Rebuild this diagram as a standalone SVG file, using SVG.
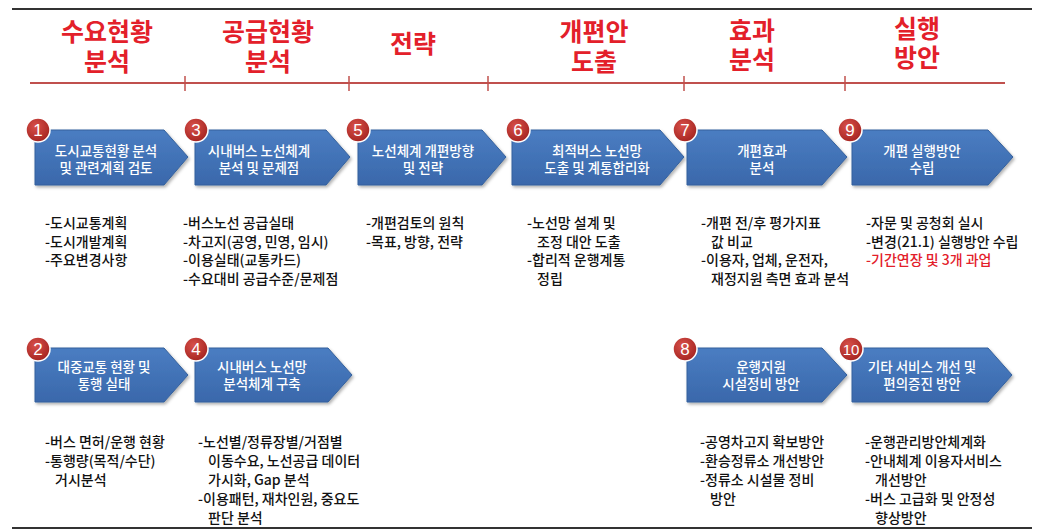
<svg xmlns="http://www.w3.org/2000/svg" width="1040" height="531" viewBox="0 0 1040 531">
<defs>
<linearGradient id="gArrow" x1="0" y1="0" x2="0" y2="1">
<stop offset="0" stop-color="#4a7dc2"/>
<stop offset="1" stop-color="#3a68ab"/>
</linearGradient>
<radialGradient id="gBadge" cx="0.4" cy="0.35" r="0.7">
<stop offset="0" stop-color="#d8504a"/>
<stop offset="1" stop-color="#a3231f"/>
</radialGradient>
<filter id="shadow" x="-10%" y="-10%" width="130%" height="140%">
<feDropShadow dx="1.5" dy="2" stdDeviation="1.5" flood-color="#000" flood-opacity="0.3"/>
</filter>
<style>
.arrow{fill:url(#gArrow);stroke:#34609c;stroke-width:1;filter:url(#shadow)}
.badge{fill:url(#gBadge);stroke:#fff;stroke-width:1.5}
.num{font-family:"Liberation Sans","Noto Sans",sans-serif;font-size:17px;fill:#fff;text-anchor:middle}
.lbl{font-family:"Noto Sans CJK KR","Noto Sans",sans-serif;font-size:13.5px;font-weight:500;fill:#fff;text-anchor:middle}
.bul{font-family:"Noto Sans CJK KR","Noto Sans",sans-serif;font-size:14px;font-weight:500;fill:#111}
.red{fill:#e3202a}
.hdr{font-family:"Noto Sans CJK KR","Noto Sans",sans-serif;font-size:25px;font-weight:bold;fill:#e3202a;text-anchor:middle}
.tl{stroke:#c0504d;stroke-width:2;fill:none}
.tick{stroke:#c0504d;stroke-width:1.5}
.rule{stroke:#333;stroke-width:2}
</style>
</defs>
<rect width="1040" height="531" fill="#fff"/>
<line class="rule" x1="12" y1="9" x2="1032" y2="9"/>
<line class="rule" x1="12" y1="528" x2="1032" y2="528"/>

<g id="headers">
<text class="hdr" x="107" y="41">수요현황</text>
<text class="hdr" x="107" y="71">분석</text>
<text class="hdr" x="268" y="41">공급현황</text>
<text class="hdr" x="268" y="71">분석</text>
<text class="hdr" x="413" y="53">전략</text>
<text class="hdr" x="594" y="41">개편안</text>
<text class="hdr" x="594" y="71">도출</text>
<text class="hdr" x="752" y="40">효과</text>
<text class="hdr" x="752" y="69">분석</text>
<text class="hdr" x="917" y="38">실행</text>
<text class="hdr" x="917" y="67">방안</text>
</g>

<g id="timeline">
<line class="tl" x1="30" y1="83" x2="1005" y2="83"/>
<line class="tick" x1="185" y1="76" x2="185" y2="91"/>
<line class="tick" x1="349" y1="76" x2="349" y2="91"/>
<line class="tick" x1="488" y1="76" x2="488" y2="91"/>
<line class="tick" x1="684" y1="76" x2="684" y2="91"/>
<line class="tick" x1="845" y1="76" x2="845" y2="91"/>
</g>

<g id="connectors"/>

<g id="node1">
<polygon class="arrow" points="35,130 164,130 188,157 164,185 35,185"/>
<circle class="badge" cx="38" cy="130" r="12"/>
<text class="num" x="38" y="136">1</text>
<text class="lbl" x="106" y="156">도시교통현황 분석</text>
<text class="lbl" x="106" y="173">및 관련계획 검토</text>
<text class="bul" x="45" y="228">-도시교통계획</text>
<text class="bul" x="45" y="246.5">-도시개발계획</text>
<text class="bul" x="45" y="265">-주요변경사항</text>
</g>

<g id="node3">
<polygon class="arrow" points="195,130 326,130 350,157 326,185 195,185"/>
<circle class="badge" cx="196" cy="130" r="12"/>
<text class="num" x="196" y="136">3</text>
<text class="lbl" x="259" y="156">시내버스 노선체계</text>
<text class="lbl" x="259" y="173">분석 및 문제점</text>
<text class="bul" x="183" y="228">-버스노선 공급실태</text>
<text class="bul" x="183" y="246.5">-차고지(공영, 민영, 임시)</text>
<text class="bul" x="183" y="265">-이용실태(교통카드)</text>
<text class="bul" x="183" y="283.5">-수요대비 공급수준/문제점</text>
</g>

<g id="node5">
<polygon class="arrow" points="358,130 482,130 506,157 482,185 358,185"/>
<circle class="badge" cx="358" cy="130" r="12"/>
<text class="num" x="358" y="136">5</text>
<text class="lbl" x="423" y="156">노선체계 개편방향</text>
<text class="lbl" x="423" y="173">및 전략</text>
<text class="bul" x="366" y="228">-개편검토의 원칙</text>
<text class="bul" x="366" y="246.5">-목표, 방향, 전략</text>
</g>

<g id="node6">
<polygon class="arrow" points="512,130 660,130 684,157 660,185 512,185"/>
<circle class="badge" cx="518" cy="130" r="12"/>
<text class="num" x="518" y="136">6</text>
<text class="lbl" x="597" y="156">최적버스 노선망</text>
<text class="lbl" x="597" y="173">도출 및 계통합리화</text>
<text class="bul" x="527" y="228">-노선망 설계 및</text>
<text class="bul" x="537" y="246.5">조정 대안 도출</text>
<text class="bul" x="527" y="265">-합리적 운행계통</text>
<text class="bul" x="537" y="283.5">정립</text>
</g>

<g id="node7">
<polygon class="arrow" points="687,130 822,130 847,157 822,185 687,185"/>
<circle class="badge" cx="685" cy="130" r="12"/>
<text class="num" x="685" y="136">7</text>
<text class="lbl" x="762" y="156">개편효과</text>
<text class="lbl" x="762" y="173">분석</text>
<text class="bul" x="701" y="228">-개편 전/후 평가지표</text>
<text class="bul" x="711" y="246.5">값 비교</text>
<text class="bul" x="701" y="265">-이용자, 업체, 운전자,</text>
<text class="bul" x="711" y="283.5">재정지원 측면 효과 분석</text>
</g>

<g id="node9">
<polygon class="arrow" points="852,130 988,130 1013,157 988,185 852,185"/>
<circle class="badge" cx="850" cy="130" r="12"/>
<text class="num" x="850" y="136">9</text>
<text class="lbl" x="922" y="156">개편 실행방안</text>
<text class="lbl" x="922" y="173">수립</text>
<text class="bul" x="866" y="228">-자문 및 공청회 실시</text>
<text class="bul" x="866" y="246.5">-변경(21.1) 실행방안 수립</text>
<text class="bul red" x="866" y="265">-기간연장 및 3개 과업</text>
</g>

<g id="node2">
<polygon class="arrow" points="35,348 164,348 188,375 164,402 35,402"/>
<circle class="badge" cx="38" cy="349" r="12"/>
<text class="num" x="38" y="355">2</text>
<text class="lbl" x="104" y="372">대중교통 현황 및</text>
<text class="lbl" x="104" y="389">통행 실태</text>
<text class="bul" x="45" y="447">-버스 면허/운행 현황</text>
<text class="bul" x="45" y="466">-통행량(목적/수단)</text>
<text class="bul" x="55" y="485">거시분석</text>
</g>

<g id="node4">
<polygon class="arrow" points="195,348 328,348 352,375 328,402 195,402"/>
<circle class="badge" cx="196" cy="349" r="12"/>
<text class="num" x="196" y="355">4</text>
<text class="lbl" x="262" y="372">시내버스 노선망</text>
<text class="lbl" x="262" y="389">분석체계 구축</text>
<text class="bul" x="198" y="447">-노선별/정류장별/거점별</text>
<text class="bul" x="208" y="466">이동수요, 노선공급 데이터</text>
<text class="bul" x="208" y="485">가시화, Gap 분석</text>
<text class="bul" x="198" y="504">-이용패턴, 재차인원, 중요도</text>
<text class="bul" x="208" y="523">판단 분석</text>
</g>

<g id="node8">
<polygon class="arrow" points="687,348 822,348 847,375 822,402 687,402"/>
<circle class="badge" cx="685" cy="349" r="12"/>
<text class="num" x="685" y="355">8</text>
<text class="lbl" x="761" y="372">운행지원</text>
<text class="lbl" x="761" y="389">시설정비 방안</text>
<text class="bul" x="700" y="447">-공영차고지 확보방안</text>
<text class="bul" x="700" y="466">-환승정류소 개선방안</text>
<text class="bul" x="700" y="485">-정류소 시설물 정비</text>
<text class="bul" x="710" y="504">방안</text>
</g>

<g id="node10">
<polygon class="arrow" points="852,348 988,348 1012,375 988,402 852,402"/>
<circle class="badge" cx="851" cy="349" r="12"/>
<text class="num" x="851" y="355" style="font-size:15px">10</text>
<text class="lbl" x="922" y="372">기타 서비스 개선 및</text>
<text class="lbl" x="922" y="389">편의증진 방안</text>
<text class="bul" x="865" y="447">-운행관리방안체계화</text>
<text class="bul" x="865" y="466">-안내체계 이용자서비스</text>
<text class="bul" x="875" y="485">개선방안</text>
<text class="bul" x="865" y="504">-버스 고급화 및 안정성</text>
<text class="bul" x="875" y="523">향상방안</text>
</g>
</svg>
